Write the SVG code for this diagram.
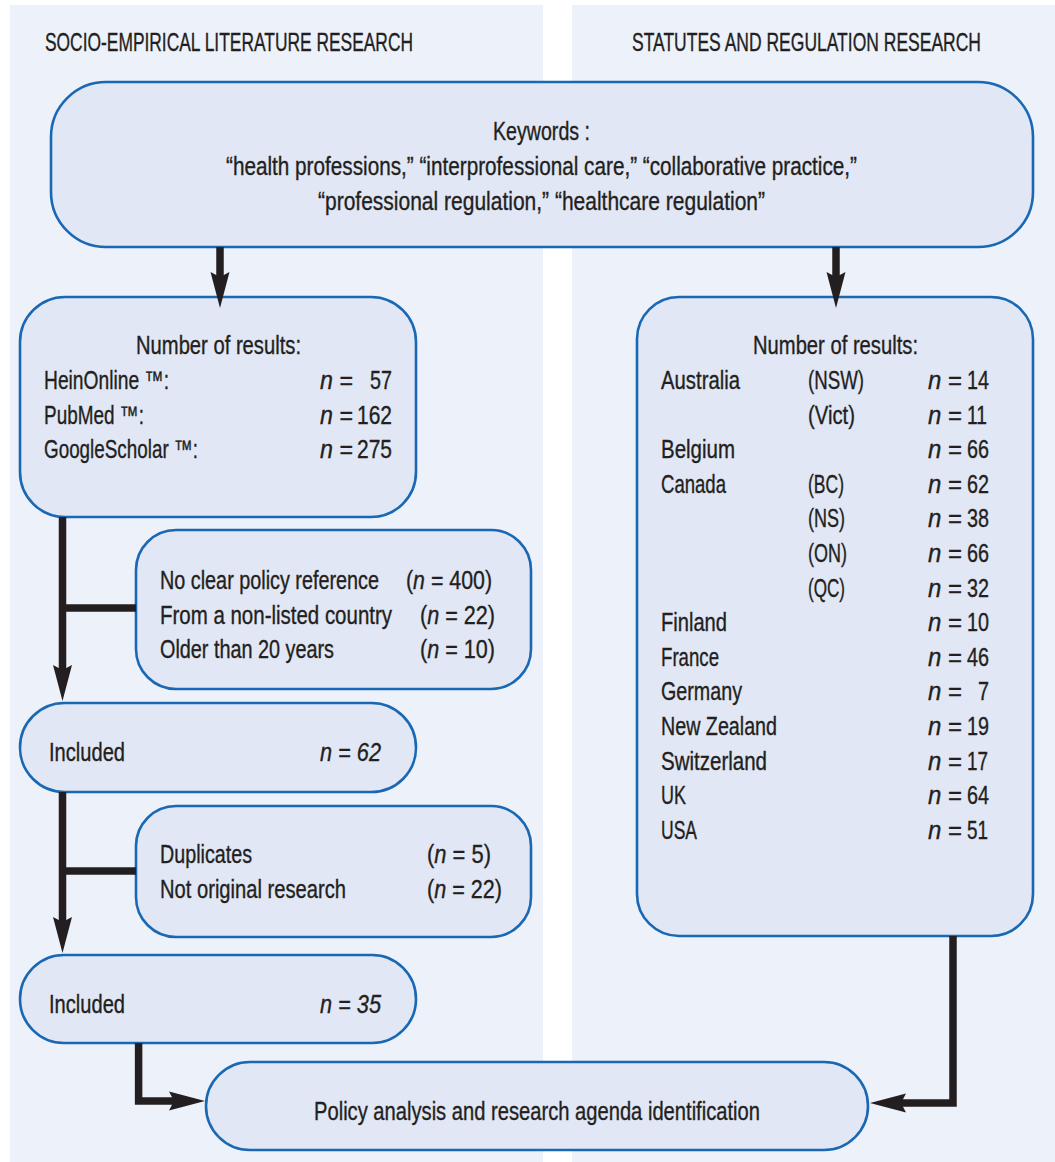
<svg xmlns="http://www.w3.org/2000/svg" width="1055" height="1162" viewBox="0 0 1055 1162">
<style>
text{font-family:"Liberation Sans Narrow","Liberation Sans",Arial,sans-serif;font-size:25.5px;fill:#231F20;stroke:#231F20;stroke-width:0.35}
.h{font-size:26px}
.i{font-style:italic}
.box{fill:#E1E7F5;stroke:#1A68B3;stroke-width:2.6}
.panel{fill:#EDF1FA}
.con{fill:none;stroke:#231F20;stroke-width:7.5;stroke-linejoin:miter}
</style>
<defs>
<marker id="ah" markerUnits="userSpaceOnUse" markerWidth="40" markerHeight="24" viewBox="0 -12 40 24" refX="8" refY="0" orient="auto">
<path d="M0,-9.5 L36,0 L0,9.5 L5,0 Z" fill="#231F20"/>
</marker>
</defs>
<rect width="1055" height="1162" fill="#FFFFFF"/>
<g id="panels">
<rect class="panel" x="10" y="5" width="533" height="1157"/>
<rect class="panel" x="572" y="5" width="483" height="1157"/>
<text class="h" x="45" y="51" textLength="368" lengthAdjust="spacingAndGlyphs">SOCIO-EMPIRICAL LITERATURE RESEARCH</text>
<text class="h" x="632" y="51" textLength="349" lengthAdjust="spacingAndGlyphs">STATUTES AND REGULATION RESEARCH</text>
</g>
<g id="keywords">
<rect class="box" x="51" y="82" width="982" height="165" rx="55"/>
<text x="493" y="140" textLength="97" lengthAdjust="spacingAndGlyphs">Keywords :</text>
<text x="226" y="175" textLength="631" lengthAdjust="spacingAndGlyphs">“health professions,” “interprofessional care,” “collaborative practice,”</text>
<text x="318" y="210" textLength="447" lengthAdjust="spacingAndGlyphs">“professional regulation,” “healthcare regulation”</text>
</g>
<g id="lit-results">
<rect class="box" x="20" y="297" width="396" height="220" rx="45"/>
<text x="136" y="354" textLength="165" lengthAdjust="spacingAndGlyphs">Number of results:</text>
<text x="44" y="389" textLength="125" lengthAdjust="spacingAndGlyphs">HeinOnline ™:</text>
<text x="44" y="423.5" textLength="100" lengthAdjust="spacingAndGlyphs">PubMed ™:</text>
<text x="44" y="458" textLength="154" lengthAdjust="spacingAndGlyphs">GoogleScholar ™:</text>
<text x="320" y="389" textLength="33" lengthAdjust="spacingAndGlyphs"><tspan class="i">n</tspan> =</text>
<text x="392" y="389" text-anchor="end" textLength="22" lengthAdjust="spacingAndGlyphs">57</text>
<text x="320" y="423.5" textLength="33" lengthAdjust="spacingAndGlyphs"><tspan class="i">n</tspan> =</text>
<text x="392" y="423.5" text-anchor="end" textLength="35" lengthAdjust="spacingAndGlyphs">162</text>
<text x="320" y="458" textLength="33" lengthAdjust="spacingAndGlyphs"><tspan class="i">n</tspan> =</text>
<text x="392" y="458" text-anchor="end" textLength="35" lengthAdjust="spacingAndGlyphs">275</text>
</g>
<g id="exclusion-1">
<rect class="box" x="136" y="530" width="395" height="159" rx="40"/>
<text x="160" y="589" textLength="219" lengthAdjust="spacingAndGlyphs">No clear policy reference</text>
<text x="406" y="589" textLength="86" lengthAdjust="spacingAndGlyphs">(<tspan class="i">n</tspan> = 400)</text>
<text x="160" y="623.5" textLength="232" lengthAdjust="spacingAndGlyphs">From a non-listed country</text>
<text x="420" y="623.5" textLength="75" lengthAdjust="spacingAndGlyphs">(<tspan class="i">n</tspan> = 22)</text>
<text x="160" y="658" textLength="174" lengthAdjust="spacingAndGlyphs">Older than 20 years</text>
<text x="420" y="658" textLength="75" lengthAdjust="spacingAndGlyphs">(<tspan class="i">n</tspan> = 10)</text>
</g>
<g id="included-62">
<rect class="box" x="20" y="703" width="396" height="89" rx="44.5"/>
<text x="49" y="761" textLength="76" lengthAdjust="spacingAndGlyphs">Included</text>
<text class="i" x="320" y="761" textLength="61" lengthAdjust="spacingAndGlyphs">n = 62</text>
</g>
<g id="exclusion-2">
<rect class="box" x="136" y="806" width="395" height="131" rx="40"/>
<text x="160" y="863" textLength="92" lengthAdjust="spacingAndGlyphs">Duplicates</text>
<text x="427" y="863" textLength="64" lengthAdjust="spacingAndGlyphs">(<tspan class="i">n</tspan> = 5)</text>
<text x="160" y="898" textLength="186" lengthAdjust="spacingAndGlyphs">Not original research</text>
<text x="427" y="898" textLength="75" lengthAdjust="spacingAndGlyphs">(<tspan class="i">n</tspan> = 22)</text>
</g>
<g id="included-35">
<rect class="box" x="20" y="955" width="396" height="88" rx="44"/>
<text x="49" y="1013" textLength="76" lengthAdjust="spacingAndGlyphs">Included</text>
<text class="i" x="320" y="1013" textLength="61" lengthAdjust="spacingAndGlyphs">n = 35</text>
</g>
<g id="policy-analysis">
<rect class="box" x="206" y="1062" width="662" height="88" rx="44"/>
<text x="314" y="1120" textLength="446" lengthAdjust="spacingAndGlyphs">Policy analysis and research agenda identification</text>
</g>
<g id="statute-results">
<rect class="box" x="637" y="297" width="396" height="639" rx="42"/>
<text x="753" y="354" textLength="165" lengthAdjust="spacingAndGlyphs">Number of results:</text>
<text x="661" y="389" textLength="79" lengthAdjust="spacingAndGlyphs">Australia</text>
<text x="808" y="389" textLength="56" lengthAdjust="spacingAndGlyphs">(NSW)</text>
<text x="808" y="423.6" textLength="47" lengthAdjust="spacingAndGlyphs">(Vict)</text>
<text x="661" y="458.2" textLength="74" lengthAdjust="spacingAndGlyphs">Belgium</text>
<text x="661" y="492.8" textLength="65" lengthAdjust="spacingAndGlyphs">Canada</text>
<text x="808" y="492.8" textLength="36" lengthAdjust="spacingAndGlyphs">(BC)</text>
<text x="808" y="527.4" textLength="37" lengthAdjust="spacingAndGlyphs">(NS)</text>
<text x="808" y="562" textLength="39" lengthAdjust="spacingAndGlyphs">(ON)</text>
<text x="808" y="596.6" textLength="37" lengthAdjust="spacingAndGlyphs">(QC)</text>
<text x="661" y="631.2" textLength="66" lengthAdjust="spacingAndGlyphs">Finland</text>
<text x="661" y="665.8" textLength="58" lengthAdjust="spacingAndGlyphs">France</text>
<text x="661" y="700.4" textLength="81" lengthAdjust="spacingAndGlyphs">Germany</text>
<text x="661" y="735" textLength="116" lengthAdjust="spacingAndGlyphs">New Zealand</text>
<text x="661" y="769.6" textLength="106" lengthAdjust="spacingAndGlyphs">Switzerland</text>
<text x="661" y="804.2" textLength="25" lengthAdjust="spacingAndGlyphs">UK</text>
<text x="661" y="838.8" textLength="36" lengthAdjust="spacingAndGlyphs">USA</text>
<g>
<text x="928" y="389" textLength="34" lengthAdjust="spacingAndGlyphs"><tspan class="i">n</tspan> =</text>
<text x="989" y="389" text-anchor="end" textLength="22" lengthAdjust="spacingAndGlyphs">14</text>
<text x="928" y="423.6" textLength="34" lengthAdjust="spacingAndGlyphs"><tspan class="i">n</tspan> =</text>
<text x="987" y="423.6" text-anchor="end" textLength="20" lengthAdjust="spacingAndGlyphs">11</text>
<text x="928" y="458.2" textLength="34" lengthAdjust="spacingAndGlyphs"><tspan class="i">n</tspan> =</text>
<text x="989" y="458.2" text-anchor="end" textLength="22" lengthAdjust="spacingAndGlyphs">66</text>
<text x="928" y="492.8" textLength="34" lengthAdjust="spacingAndGlyphs"><tspan class="i">n</tspan> =</text>
<text x="989" y="492.8" text-anchor="end" textLength="22" lengthAdjust="spacingAndGlyphs">62</text>
<text x="928" y="527.4" textLength="34" lengthAdjust="spacingAndGlyphs"><tspan class="i">n</tspan> =</text>
<text x="989" y="527.4" text-anchor="end" textLength="22" lengthAdjust="spacingAndGlyphs">38</text>
<text x="928" y="562" textLength="34" lengthAdjust="spacingAndGlyphs"><tspan class="i">n</tspan> =</text>
<text x="989" y="562" text-anchor="end" textLength="22" lengthAdjust="spacingAndGlyphs">66</text>
<text x="928" y="596.6" textLength="34" lengthAdjust="spacingAndGlyphs"><tspan class="i">n</tspan> =</text>
<text x="989" y="596.6" text-anchor="end" textLength="22" lengthAdjust="spacingAndGlyphs">32</text>
<text x="928" y="631.2" textLength="34" lengthAdjust="spacingAndGlyphs"><tspan class="i">n</tspan> =</text>
<text x="989" y="631.2" text-anchor="end" textLength="22" lengthAdjust="spacingAndGlyphs">10</text>
<text x="928" y="665.8" textLength="34" lengthAdjust="spacingAndGlyphs"><tspan class="i">n</tspan> =</text>
<text x="989" y="665.8" text-anchor="end" textLength="22" lengthAdjust="spacingAndGlyphs">46</text>
<text x="928" y="700.4" textLength="34" lengthAdjust="spacingAndGlyphs"><tspan class="i">n</tspan> =</text>
<text x="989" y="700.4" text-anchor="end" textLength="11" lengthAdjust="spacingAndGlyphs">7</text>
<text x="928" y="735" textLength="34" lengthAdjust="spacingAndGlyphs"><tspan class="i">n</tspan> =</text>
<text x="989" y="735" text-anchor="end" textLength="22" lengthAdjust="spacingAndGlyphs">19</text>
<text x="928" y="769.6" textLength="34" lengthAdjust="spacingAndGlyphs"><tspan class="i">n</tspan> =</text>
<text x="988" y="769.6" text-anchor="end" textLength="21" lengthAdjust="spacingAndGlyphs">17</text>
<text x="928" y="804.2" textLength="34" lengthAdjust="spacingAndGlyphs"><tspan class="i">n</tspan> =</text>
<text x="989" y="804.2" text-anchor="end" textLength="22" lengthAdjust="spacingAndGlyphs">64</text>
<text x="928" y="838.8" textLength="34" lengthAdjust="spacingAndGlyphs"><tspan class="i">n</tspan> =</text>
<text x="988" y="838.8" text-anchor="end" textLength="21" lengthAdjust="spacingAndGlyphs">51</text>
</g>
</g>
<g id="connectors">
<path class="con" d="M220,247 V280" marker-end="url(#ah)"/>
<path class="con" d="M836,247 V280" marker-end="url(#ah)"/>
<path class="con" d="M62.5,517 V673" marker-end="url(#ah)"/>
<path class="con" d="M62.5,608 H136"/>
<path class="con" d="M62.5,792 V925" marker-end="url(#ah)"/>
<path class="con" d="M62.5,871 H136"/>
<path class="con" d="M138.6,1043 V1101 H177" marker-end="url(#ah)"/>
<path class="con" d="M953,936 V1103 H898" marker-end="url(#ah)"/>
</g>
</svg>
